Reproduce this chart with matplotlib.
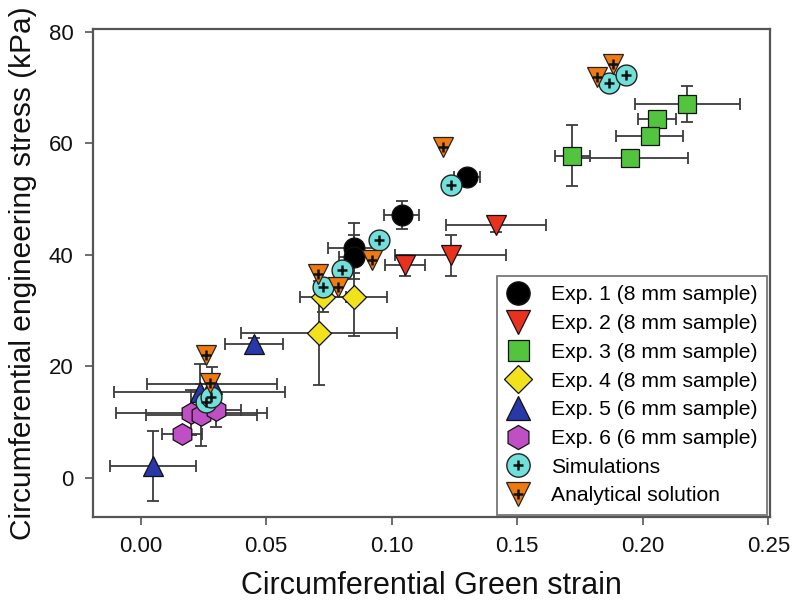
import matplotlib
matplotlib.use("Agg")
import matplotlib.pyplot as plt
from matplotlib.lines import Line2D

plt.rcParams['font.family'] = ['Liberation Sans', 'DejaVu Sans']

# ---- data ----
exp1_x = [0.130, 0.104, 0.085, 0.085]
exp1_y = [54.0, 47.2, 41.3, 39.6]
exp1_xerr = [0.005, 0.007, 0.0105, 0.006]
exp1_yerr = [1.0, 2.5, 4.5, 4.0]

exp2_x = [0.1415, 0.1235, 0.1053]
exp2_y = [45.3, 39.9, 38.1]
exp2_xerr = [0.020, 0.022, 0.008]
exp2_yerr = [1.2, 3.7, 1.8]

exp3_x = [0.2178, 0.2056, 0.2027, 0.172, 0.195]
exp3_y = [67.1, 64.3, 61.4, 57.8, 57.3]
exp3_xerr = [0.0208, 0.0077, 0.0132, 0.007, 0.023]
exp3_yerr = [3.2, 1.0, 1.0, 5.4, 1.0]

exp4_x = [0.0711, 0.0851, 0.0727]
exp4_y = [26.0, 32.4, 32.4]
exp4_xerr = [0.031, 0.013, 0.009]
exp4_yerr = [9.3, 6.9, 2.7]

exp5_x = [0.0451, 0.0049, 0.0285, 0.0235]
exp5_y = [24.1, 2.1, 16.9, 15.5]
exp5_xerr = [0.0116, 0.017, 0.026, 0.034]
exp5_yerr = [1.0, 6.3, 3.0, 5.0]

exp6_x = [0.0202, 0.0242, 0.0302, 0.0166]
exp6_y = [11.7, 11.3, 12.2, 7.8]
exp6_xerr = [0.030, 0.022, 0.010, 0.008]
exp6_yerr = [4.0, 5.5, 3.0, 1.0]

sim_x = [0.1236, 0.0949, 0.0804, 0.0727, 0.1867, 0.1934, 0.0260, 0.0282]
sim_y = [52.6, 42.6, 37.3, 34.2, 70.8, 72.3, 13.6, 14.5]

ana_x = [0.1206, 0.0920, 0.0707, 0.0787, 0.1817, 0.1880, 0.0262, 0.0275]
ana_y = [59.3, 39.0, 36.6, 34.2, 71.9, 74.2, 22.0, 17.0]

labels = ["Exp. 1 (8 mm sample)", "Exp. 2 (8 mm sample)", "Exp. 3 (8 mm sample)",
          "Exp. 4 (8 mm sample)", "Exp. 5 (6 mm sample)", "Exp. 6 (6 mm sample)",
          "Simulations", "Analytical solution"]

x_ticks = [0.00, 0.05, 0.10, 0.15, 0.20, 0.25]
y_ticks = [0, 20, 40, 60, 80]

# ---- styles ----
exp_series = [
    (exp1_x, exp1_y, exp1_xerr, exp1_yerr, 'o', '#000000', 15),
    (exp2_x, exp2_y, exp2_xerr, exp2_yerr, 'v', '#e8321e', 15),
    (exp3_x, exp3_y, exp3_xerr, exp3_yerr, 's', '#52c43e', 13.5),
    (exp4_x, exp4_y, exp4_xerr, exp4_yerr, 'D', '#f2e21e', 12.5),
    (exp5_x, exp5_y, exp5_xerr, exp5_yerr, '^', '#2838a8', 15),
    (exp6_x, exp6_y, exp6_xerr, exp6_yerr, 'h', '#c04ec4', 15.5),
]
sim_color = '#72e0da'
ana_color = '#f07a12'
err_color = '#3c3c3c'
leg_scale = 1.12


def plus(ms):
    return dict(linestyle='none', marker='+', markersize=ms, markeredgecolor='#111111',
                markeredgewidth=1.8)


fig = plt.figure(figsize=(8.0, 6.04), dpi=100)
ax = fig.add_axes([0.116, 0.144, 0.846, 0.808])

handles = []
for (xs, ys, xe, ye, mk, col, ms) in exp_series:
    ax.errorbar(xs, ys, xerr=xe, yerr=ye, fmt='none', ecolor=err_color,
                elinewidth=1.3, capsize=4.5, capthick=1.3, zorder=2)
    ax.plot(xs, ys, linestyle='none', marker=mk, markersize=ms,
            markerfacecolor=col, markeredgecolor='#111111', markeredgewidth=0.9, zorder=3)
    handles.append(Line2D([], [], linestyle='none', marker=mk, markersize=ms * leg_scale,
                          markerfacecolor=col, markeredgecolor='#111111', markeredgewidth=0.9))

ax.plot(sim_x, sim_y, linestyle='none', marker='o', markersize=15,
        markerfacecolor=sim_color, markeredgecolor='#222222', markeredgewidth=1.0, zorder=4)
ax.plot(sim_x, sim_y, zorder=4.1, **plus(7))
ax.plot(ana_x, ana_y, linestyle='none', marker='v', markersize=15,
        markerfacecolor=ana_color, markeredgecolor='#222222', markeredgewidth=0.9, zorder=5)
ax.plot(ana_x, ana_y, zorder=5.1, **plus(7))

h_sim = (Line2D([], [], linestyle='none', marker='o', markersize=15 * leg_scale,
                markerfacecolor=sim_color, markeredgecolor='#222222', markeredgewidth=1.0),
         Line2D([], [], **plus(7.5)))
h_ana = (Line2D([], [], linestyle='none', marker='v', markersize=15 * leg_scale,
                markerfacecolor=ana_color, markeredgecolor='#222222', markeredgewidth=0.9),
         Line2D([], [], **plus(7.5)))
handles += [h_sim, h_ana]

ax.set_xlim(-0.019, 0.2505)
ax.set_ylim(-7.0, 80.5)
ax.set_xticks(x_ticks)
ax.set_xticklabels([f"{t:.2f}" for t in x_ticks])
ax.set_yticks(y_ticks)
ax.set_yticklabels([str(t) for t in y_ticks])

for s in ax.spines.values():
    s.set_color('#555555')
    s.set_linewidth(1.6)
ax.tick_params(axis='both', direction='out', length=6, width=1.2, colors='#555555',
               labelcolor='#111111', labelsize=16, pad=8)

ax.set_xlabel("Circumferential Green strain", fontsize=22, color='#111111', labelpad=10)
ax.set_ylabel("Circumferential engineering stress (kPa)", fontsize=21.5, color='#111111', labelpad=8)

leg = ax.legend(handles, labels, loc='lower right', fontsize=15.2, frameon=True, fancybox=False,
                borderaxespad=0.1, labelspacing=0.46, handletextpad=1.05, handlelength=1.1,
                borderpad=0.45, numpoints=1)
leg.get_frame().set_edgecolor('#555555')
leg.get_frame().set_linewidth(1.3)
leg.set_zorder(10)

fig.savefig("out.png", dpi=100)
